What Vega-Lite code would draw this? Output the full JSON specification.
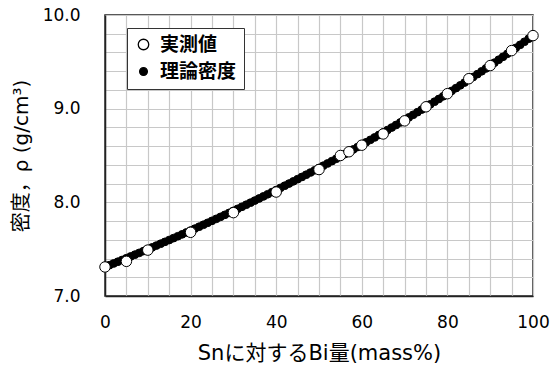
{
  "$schema": "https://vega.github.io/schema/vega-lite/v6.json",
  "width": 428,
  "height": 281,
  "autosize": {"type": "none"},
  "padding": {"left": 105, "top": 15, "right": 26, "bottom": 76},
  "background": "white",
  "config": {
    "font": "DejaVu Sans, Noto Sans CJK JP",
    "view": {"stroke": "#222", "strokeWidth": 1.5},
    "axis": {"labelFont": "DejaVu Sans, Noto Sans CJK JP", "titleFont": "DejaVu Sans, Noto Sans CJK JP", "labelColor": "black", "titleColor": "black"}
  },
  "datasets": {
    "theory": [
      {"bi": 0, "rho": 7.310, "series": "理論密度"}, {"bi": 1, "rho": 7.3285, "series": "理論密度"}, {"bi": 2, "rho": 7.3471, "series": "理論密度"}, {"bi": 3, "rho": 7.3658, "series": "理論密度"}, {"bi": 4, "rho": 7.3846, "series": "理論密度"},
      {"bi": 5, "rho": 7.4035, "series": "理論密度"}, {"bi": 6, "rho": 7.4225, "series": "理論密度"}, {"bi": 7, "rho": 7.4416, "series": "理論密度"}, {"bi": 8, "rho": 7.4607, "series": "理論密度"}, {"bi": 9, "rho": 7.4800, "series": "理論密度"},
      {"bi": 10, "rho": 7.4994, "series": "理論密度"}, {"bi": 11, "rho": 7.5189, "series": "理論密度"}, {"bi": 12, "rho": 7.5385, "series": "理論密度"}, {"bi": 13, "rho": 7.5581, "series": "理論密度"}, {"bi": 14, "rho": 7.5780, "series": "理論密度"},
      {"bi": 15, "rho": 7.5978, "series": "理論密度"}, {"bi": 16, "rho": 7.6178, "series": "理論密度"}, {"bi": 17, "rho": 7.6379, "series": "理論密度"}, {"bi": 18, "rho": 7.6581, "series": "理論密度"}, {"bi": 19, "rho": 7.6784, "series": "理論密度"},
      {"bi": 20, "rho": 7.6989, "series": "理論密度"}, {"bi": 21, "rho": 7.7194, "series": "理論密度"}, {"bi": 22, "rho": 7.7401, "series": "理論密度"}, {"bi": 23, "rho": 7.7608, "series": "理論密度"}, {"bi": 24, "rho": 7.7817, "series": "理論密度"},
      {"bi": 25, "rho": 7.8027, "series": "理論密度"}, {"bi": 26, "rho": 7.8238, "series": "理論密度"}, {"bi": 27, "rho": 7.8450, "series": "理論密度"}, {"bi": 28, "rho": 7.8663, "series": "理論密度"}, {"bi": 29, "rho": 7.8877, "series": "理論密度"},
      {"bi": 30, "rho": 7.9093, "series": "理論密度"}, {"bi": 31, "rho": 7.9309, "series": "理論密度"}, {"bi": 32, "rho": 7.9527, "series": "理論密度"}, {"bi": 33, "rho": 7.9746, "series": "理論密度"}, {"bi": 34, "rho": 7.9967, "series": "理論密度"},
      {"bi": 35, "rho": 8.0188, "series": "理論密度"}, {"bi": 36, "rho": 8.0411, "series": "理論密度"}, {"bi": 37, "rho": 8.0635, "series": "理論密度"}, {"bi": 38, "rho": 8.0860, "series": "理論密度"}, {"bi": 39, "rho": 8.1087, "series": "理論密度"},
      {"bi": 40, "rho": 8.1315, "series": "理論密度"}, {"bi": 41, "rho": 8.1544, "series": "理論密度"}, {"bi": 42, "rho": 8.1774, "series": "理論密度"}, {"bi": 43, "rho": 8.2006, "series": "理論密度"}, {"bi": 44, "rho": 8.2239, "series": "理論密度"},
      {"bi": 45, "rho": 8.2473, "series": "理論密度"}, {"bi": 46, "rho": 8.2709, "series": "理論密度"}, {"bi": 47, "rho": 8.2946, "series": "理論密度"}, {"bi": 48, "rho": 8.3185, "series": "理論密度"}, {"bi": 49, "rho": 8.3424, "series": "理論密度"},
      {"bi": 50, "rho": 8.3665, "series": "理論密度"}, {"bi": 51, "rho": 8.3908, "series": "理論密度"}, {"bi": 52, "rho": 8.4152, "series": "理論密度"}, {"bi": 53, "rho": 8.4397, "series": "理論密度"}, {"bi": 54, "rho": 8.4644, "series": "理論密度"},
      {"bi": 55, "rho": 8.4892, "series": "理論密度"}, {"bi": 56, "rho": 8.5142, "series": "理論密度"}, {"bi": 57, "rho": 8.5393, "series": "理論密度"}, {"bi": 58, "rho": 8.5646, "series": "理論密度"}, {"bi": 59, "rho": 8.5900, "series": "理論密度"},
      {"bi": 60, "rho": 8.6156, "series": "理論密度"}, {"bi": 61, "rho": 8.6413, "series": "理論密度"}, {"bi": 62, "rho": 8.6672, "series": "理論密度"}, {"bi": 63, "rho": 8.6932, "series": "理論密度"}, {"bi": 64, "rho": 8.7194, "series": "理論密度"},
      {"bi": 65, "rho": 8.7457, "series": "理論密度"}, {"bi": 66, "rho": 8.7722, "series": "理論密度"}, {"bi": 67, "rho": 8.7989, "series": "理論密度"}, {"bi": 68, "rho": 8.8257, "series": "理論密度"}, {"bi": 69, "rho": 8.8527, "series": "理論密度"},
      {"bi": 70, "rho": 8.8799, "series": "理論密度"}, {"bi": 71, "rho": 8.9072, "series": "理論密度"}, {"bi": 72, "rho": 8.9347, "series": "理論密度"}, {"bi": 73, "rho": 8.9624, "series": "理論密度"}, {"bi": 74, "rho": 8.9902, "series": "理論密度"},
      {"bi": 75, "rho": 9.0182, "series": "理論密度"}, {"bi": 76, "rho": 9.0464, "series": "理論密度"}, {"bi": 77, "rho": 9.0748, "series": "理論密度"}, {"bi": 78, "rho": 9.1033, "series": "理論密度"}, {"bi": 79, "rho": 9.1320, "series": "理論密度"},
      {"bi": 80, "rho": 9.1609, "series": "理論密度"}, {"bi": 81, "rho": 9.1900, "series": "理論密度"}, {"bi": 82, "rho": 9.2193, "series": "理論密度"}, {"bi": 83, "rho": 9.2487, "series": "理論密度"}, {"bi": 84, "rho": 9.2784, "series": "理論密度"},
      {"bi": 85, "rho": 9.3082, "series": "理論密度"}, {"bi": 86, "rho": 9.3382, "series": "理論密度"}, {"bi": 87, "rho": 9.3685, "series": "理論密度"}, {"bi": 88, "rho": 9.3989, "series": "理論密度"}, {"bi": 89, "rho": 9.4295, "series": "理論密度"},
      {"bi": 90, "rho": 9.4604, "series": "理論密度"}, {"bi": 91, "rho": 9.4914, "series": "理論密度"}, {"bi": 92, "rho": 9.5226, "series": "理論密度"}, {"bi": 93, "rho": 9.5540, "series": "理論密度"}, {"bi": 94, "rho": 9.5857, "series": "理論密度"},
      {"bi": 95, "rho": 9.6175, "series": "理論密度"}, {"bi": 96, "rho": 9.6496, "series": "理論密度"}, {"bi": 97, "rho": 9.6818, "series": "理論密度"}, {"bi": 98, "rho": 9.7144, "series": "理論密度"}, {"bi": 99, "rho": 9.7471, "series": "理論密度"},
      {"bi": 100, "rho": 9.7800, "series": "理論密度"}
    ],
    "measured": [
      {"bi": 0, "rho": 7.31, "series": "実測値"}, {"bi": 5, "rho": 7.37, "series": "実測値"}, {"bi": 10, "rho": 7.49, "series": "実測値"},
      {"bi": 20, "rho": 7.68, "series": "実測値"}, {"bi": 30, "rho": 7.89, "series": "実測値"}, {"bi": 40, "rho": 8.11, "series": "実測値"},
      {"bi": 50, "rho": 8.35, "series": "実測値"}, {"bi": 55, "rho": 8.50, "series": "実測値"}, {"bi": 57, "rho": 8.54, "series": "実測値"},
      {"bi": 60, "rho": 8.61, "series": "実測値"}, {"bi": 65, "rho": 8.73, "series": "実測値"}, {"bi": 70, "rho": 8.87, "series": "実測値"},
      {"bi": 75, "rho": 9.02, "series": "実測値"}, {"bi": 80, "rho": 9.16, "series": "実測値"}, {"bi": 85, "rho": 9.32, "series": "実測値"},
      {"bi": 90, "rho": 9.46, "series": "実測値"}, {"bi": 95, "rho": 9.62, "series": "実測値"}, {"bi": 100, "rho": 9.78, "series": "実測値"}
    ]
  },
  "encoding": {
    "x": {
      "field": "bi", "type": "quantitative",
      "scale": {"domain": [0, 100], "nice": false},
      "axis": {
        "title": "Snに対するBi量(mass%)",
        "titleFontSize": 21, "titleFontWeight": "normal", "titlePadding": 12,
        "values": [0,5,10,15,20,25,30,35,40,45,50,55,60,65,70,75,80,85,90,95,100],
        "labelExpr": "datum.value % 20 === 0 ? datum.label : ''",
        "labelFontSize": 17, "labelPadding": 18, "labelFlush": false,
        "ticks": false,
        "domainColor": "#222", "domainWidth": 1.5,
        "grid": true, "gridColor": "#c8c8c8", "gridWidth": 1.2,
        "encode": {"grid": {"update": {"stroke": {"signal": "datum.value % 20 === 0 ? '#8a8a8a' : '#c8c8c8'"}}}}
      }
    },
    "y": {
      "field": "rho", "type": "quantitative",
      "scale": {"domain": [7, 10], "nice": false},
      "axis": {
        "title": "密度，ρ (g/cm³)",
        "titleFontSize": 20, "titleFontWeight": "normal", "titlePadding": 11,
        "values": [7,7.2,7.4,7.6,7.8,8,8.2,8.4,8.6,8.8,9,9.2,9.4,9.6,9.8,10],
        "format": ".1f",
        "labelExpr": "abs(datum.value - round(datum.value)) < 0.001 ? datum.label : ''",
        "labelFontSize": 17, "labelPadding": 25, "labelFlush": false,
        "ticks": false,
        "domainColor": "#222", "domainWidth": 1.5,
        "grid": true, "gridColor": "#c8c8c8", "gridWidth": 1.2,
        "encode": {"grid": {"update": {"stroke": {"signal": "abs(datum.value - round(datum.value)) < 0.001 ? '#8a8a8a' : '#c8c8c8'"}}}}
      }
    },
    "fill": {
      "field": "series", "type": "nominal",
      "scale": {"domain": ["実測値", "理論密度"], "range": ["white", "black"]},
      "legend": {
        "title": null, "orient": "none", "legendX": 22, "legendY": 13,
        "strokeColor": "#333", "fillColor": "white", "padding": 7,
        "labelFontSize": 19, "labelFontWeight": "bold", "labelFont": "Noto Sans CJK JP", "labelColor": "black",
        "symbolStrokeWidth": 1.3, "rowPadding": 7, "labelOffset": 7
      }
    },
    "stroke": {
      "field": "series", "type": "nominal",
      "scale": {"domain": ["実測値", "理論密度"], "range": ["black", "black"]},
      "legend": {
        "title": null, "orient": "none", "legendX": 22, "legendY": 13,
        "strokeColor": "#333", "fillColor": "white", "padding": 7,
        "labelFontSize": 19, "labelFontWeight": "bold", "labelFont": "Noto Sans CJK JP", "labelColor": "black",
        "symbolStrokeWidth": 1.3, "rowPadding": 7, "labelOffset": 7
      }
    },
    "size": {
      "field": "series", "type": "nominal",
      "scale": {"domain": ["実測値", "理論密度"], "range": [110, 60]},
      "legend": {
        "title": null, "orient": "none", "legendX": 22, "legendY": 13,
        "strokeColor": "#333", "fillColor": "white", "padding": 7,
        "labelFontSize": 19, "labelFontWeight": "bold", "labelFont": "Noto Sans CJK JP", "labelColor": "black",
        "symbolStrokeWidth": 1.3, "rowPadding": 7, "labelOffset": 7
      }
    }
  },
  "layer": [
    {
      "data": {"name": "theory"},
      "mark": {"type": "point", "shape": "circle", "filled": true, "strokeWidth": 1, "opacity": 1}
    },
    {
      "data": {"name": "measured"},
      "mark": {"type": "point", "shape": "circle", "filled": true, "strokeWidth": 1, "opacity": 1}
    }
  ]
}
